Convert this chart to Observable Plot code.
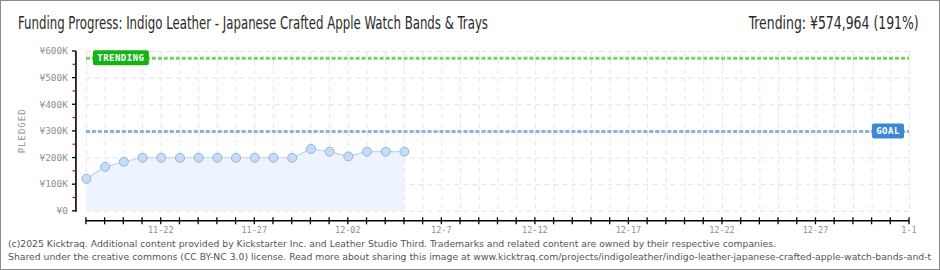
<!DOCTYPE html>
<html><head><meta charset="utf-8">
<script src="https://cdn.jsdelivr.net/npm/d3@7"></script>
<script src="https://cdn.jsdelivr.net/npm/@observablehq/plot@0.6"></script>
<style>
html,body{margin:0;padding:0;background:#fff;}
#wrap{position:relative;width:940px;height:270px;box-sizing:border-box;border:1px solid #8a8a8a;overflow:hidden;background:#fff;}
.t{position:absolute;white-space:nowrap;display:inline-block;line-height:1;}
#title{left:17px;top:14px;font-size:17px;font-family:"Liberation Sans Narrow","DejaVu Sans Condensed",sans-serif;color:#2a2a2a;transform-origin:left center;}
#trend{right:20px;top:14px;font-size:17px;font-family:"Liberation Sans Narrow","DejaVu Sans Condensed",sans-serif;color:#2a2a2a;transform-origin:right center;}
#chart{position:absolute;left:-1px;top:39px;}
.foot{left:7px;font-size:9.5px;font-family:"DejaVu Sans Condensed","DejaVu Sans",sans-serif;color:#555;transform-origin:left center;}
#foot1{top:238px;}
#foot2{top:251px;}
</style>
</head><body>
<div id="wrap">
  <span class="t" id="title"></span>
  <span class="t" id="trend"></span>
  <div id="chart"></div>
  <span class="t foot" id="foot1"></span>
  <span class="t foot" id="foot2"></span>
</div>
<script>
// ---- data ----
const titleText = "Funding Progress: Indigo Leather - Japanese Crafted Apple Watch Bands & Trays";
const trendText = "Trending: ¥574,964 (191%)";
const footLine1 = "(c)2025 Kicktraq. Additional content provided by Kickstarter Inc. and Leather Studio Third. Trademarks and related content are owned by their respective companies.";
const footLine2 = "Shared under the creative commons (CC BY-NC 3.0) license. Read more about sharing this image at www.kicktraq.com/projects/indigoleather/indigo-leather-japanese-crafted-apple-watch-bands-and-t";

const dates = ["2024-11-18","2024-11-19","2024-11-20","2024-11-21","2024-11-22","2024-11-23","2024-11-24","2024-11-25","2024-11-26","2024-11-27","2024-11-28","2024-11-29","2024-11-30","2024-12-01","2024-12-02","2024-12-03","2024-12-04","2024-12-05"];
const pledged = [122000,167000,186000,201000,201000,201000,201000,201000,201000,201000,201000,201000,234000,224000,206000,224000,224000,224000];

const goal = 300000;
const trending = 574964;
const xDomain = ["2024-11-18","2025-01-01"];
const yTicks = [0,100000,200000,300000,400000,500000,600000];
const yTickLabels = ["¥0","¥100K","¥200K","¥300K","¥400K","¥500K","¥600K"];
const yMinorTicks = [50000,150000,250000,350000,450000,550000];
const xLabelDates = ["2024-11-22","2024-11-27","2024-12-02","2024-12-07","2024-12-12","2024-12-17","2024-12-22","2024-12-27","2025-01-01"];
const xLabels = ["11-22","11-27","12-02","12-7","12-12","12-17","12-22","12-27","1-1"];
const yAxisTitle = "PLEDGED";

// ---- build ----
const P = d => new Date(d + "T00:00:00Z");
const rows = dates.map((d, i) => ({date: P(d), value: pledged[i]}));
const xStart = P(xDomain[0]), xEnd = P(xDomain[1]);
const dayTicks = d3.utcDay.range(xStart, d3.utcDay.offset(xEnd, 1));
const pix = '"DejaVu Sans Mono", monospace';

function decor(index, scales) {
  const {x, y} = scales;
  const g = d3.create("svg:g");
  const x0 = x(xStart), x1 = x(xEnd);
  const yb = y(0), yt = y(600000);
  const ax = x0 - 10;
  const axY = yb + 10;
  // y axis
  g.append("line").attr("x1", ax).attr("x2", ax).attr("y1", yt).attr("y2", yb + 1)
    .attr("stroke", "#000").attr("stroke-width", 1.6);
  for (const v of yTicks) {
    g.append("line").attr("x1", ax - 4).attr("x2", ax).attr("y1", y(v)).attr("y2", y(v))
      .attr("stroke", "#000").attr("stroke-width", 1.3);
  }
  for (const v of yMinorTicks) {
    g.append("line").attr("x1", ax - 3.5).attr("x2", ax - 0.5).attr("y1", y(v)).attr("y2", y(v))
      .attr("stroke", "#e00").attr("stroke-width", 1.2);
  }
  yTicks.forEach((v, i) => {
    g.append("text").attr("x", ax - 8).attr("y", y(v)).attr("dy", "0.35em")
      .attr("text-anchor", "end").attr("fill", "#909090")
      .style("font", `9.5px ${pix}`).text(yTickLabels[i]);
  });
  g.append("text").attr("transform", `translate(25,${(yb + yt) / 2}) rotate(-90)`)
    .attr("text-anchor", "middle").attr("fill", "#909090").style("letter-spacing", "1px")
    .style("font", `9px ${pix}`).text(yAxisTitle);
  // x axis
  g.append("line").attr("x1", x0).attr("x2", x1).attr("y1", axY).attr("y2", axY)
    .attr("stroke", "#000").attr("stroke-width", 1.6);
  for (const d of dayTicks) {
    g.append("line").attr("x1", x(d)).attr("x2", x(d)).attr("y1", axY - 3.5).attr("y2", axY + 3.5)
      .attr("stroke", "#000").attr("stroke-width", 1.3);
  }
  xLabelDates.forEach((d, i) => {
    g.append("text").attr("x", x(P(d))).attr("y", axY + 5).attr("dy", "0.8em")
      .attr("text-anchor", "middle").attr("fill", "#909090")
      .style("font", `8.5px ${pix}`).text(xLabels[i]);
  });
  // labels for goal / trending
  function tag(label, yv, color, left, right) {
    const w = label.length * 6 + 8;
    const bx = right != null ? right - w : left;
    const by = y(yv) - 7.5;
    g.append("rect").attr("x", bx).attr("y", by).attr("width", w).attr("height", 15)
      .attr("rx", 2).attr("fill", color);
    g.append("text").attr("x", bx + w / 2).attr("y", y(yv)).attr("dy", "0.36em")
      .attr("text-anchor", "middle").attr("fill", "#fff").style("letter-spacing", "0.5px")
      .style("font", `bold 9px ${pix}`).text(label);
  }
  tag("TRENDING", trending, "#16b316", x0 + 7, null);
  tag("GOAL", goal, "#3d88d6", null, x1 - 5);
  return g.node();
}

const chart = Plot.plot({
  width: 940,
  height: 197,
  marginLeft: 86,
  marginRight: 30,
  marginTop: 11,
  marginBottom: 26,
  x: {type: "utc", domain: [xStart, xEnd], axis: null},
  y: {domain: [0, 600000], axis: null},
  style: {background: "transparent", overflow: "hidden"},
  marks: [
    Plot.ruleX(dayTicks, {stroke: "#e6e6e6", strokeDasharray: "5,4", strokeWidth: 1}),
    Plot.ruleY(yTicks, {stroke: "#e2e2e2", strokeDasharray: "5,4", strokeWidth: 1}),
    Plot.areaY(rows, {x: "date", y: "value", fill: "#edf4fd"}),
    Plot.lineY(rows, {x: "date", y: "value", stroke: "#b9d5f3", strokeWidth: 1.2}),
    Plot.ruleY([goal], {stroke: "#8db0dc", strokeWidth: 3, strokeDasharray: "4,2"}),
    Plot.ruleY([trending], {stroke: "#7ccc6c", strokeWidth: 3, strokeDasharray: "4,2"}),
    Plot.dot(rows, {x: "date", y: "value", r: 4.5, fill: "#c6ddf8", stroke: "#93b2d8", strokeWidth: 1}),
    decor
  ]
});
document.getElementById("chart").appendChild(chart);

function setFit(id, text, target) {
  const el = document.getElementById(id);
  el.textContent = text;
  const w = el.getBoundingClientRect().width;
  if (target) el.style.transform = `scaleX(${target / w})`;
  return target ? target / w : 1;
}
setFit("title", titleText, 470);
setFit("trend", trendText, 170);
const s = setFit("foot1", footLine1, 768);
const f2 = document.getElementById("foot2");
f2.textContent = footLine2;
f2.style.transform = `scaleX(${s})`;
</script>
</body></html>
